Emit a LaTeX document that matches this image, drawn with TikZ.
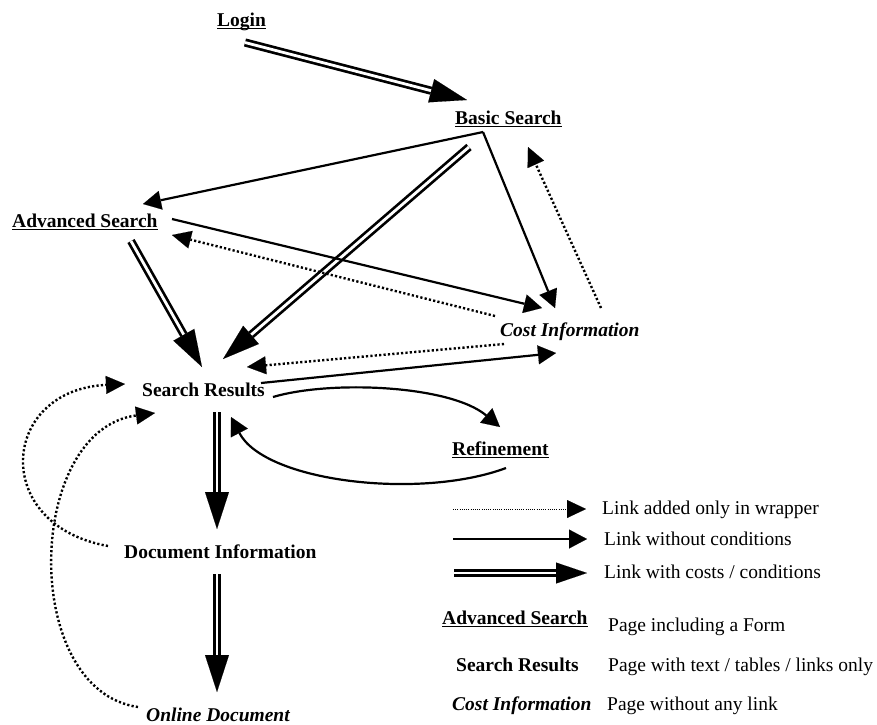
\documentclass[tikz,border=0pt]{standalone}
\usepackage{fontspec}
\setmainfont{Liberation Serif}
\usetikzlibrary{arrows.meta}
\newcommand\myul[1]{\setbox0\hbox{#1}\rlap{\rule[-2.9pt]{\wd0}{1.2pt}}\box0}
\tikzset{
  lbl/.style={inner sep=0pt, anchor=base west, font=\fontsize{19.5}{23}\selectfont},
  sglink/.style={line width=2.2pt, -{Triangle[length=18pt,width=19pt,line width=0.1pt]}},
  dblink/.style={line width=2.7pt, double, double distance=2.8pt, -{Triangle[length=37pt,width=24pt,line width=0.1pt]}},
  dotlink/.style={line width=2.4pt, dash pattern=on 2.2pt off 2.2pt, -{Triangle[length=19pt,width=18pt,line width=0.1pt]}},
  thindot/.style={line width=0.9pt, dash pattern=on 1pt off 1.2pt, -{Triangle[length=19pt,width=18pt,line width=0.1pt]}},
}
\begin{document}
\begin{tikzpicture}[x=1pt,y=-1pt]
\path[use as bounding box] (0,0) rectangle (877,724);
% nodes
\node[lbl] (login)  at (217,26)  {\textbf{\myul{Login}}};
\node[lbl] (basic)  at (455,124) {\textbf{\myul{Basic Search}}};
\node[lbl] (adv)    at (12,227)  {\textbf{\myul{Advanced Search}}};
\node[lbl] (cost)   at (500,336) {\textbf{\textit{Cost Information}}};
\node[lbl] (sr)     at (142,396) {\textbf{Search Results}};
\node[lbl] (ref)    at (452,455) {\textbf{\myul{Refinement}}};
\node[lbl] (doc)    at (124,558) {\textbf{Document Information}};
\node[lbl] (online) at (146,721) {\textbf{\textit{Online Document}}};
% connectors
\draw[dblink] ([shift={(28,16.5)}]login.base west) -- ([shift={(12,-24)}]basic.base west);
\draw[sglink] ([shift={(28,8)}]basic.base west) -- ([shift={(131,-23)}]adv.base west);
\draw[sglink] ([shift={(28,8)}]basic.base west) -- ([shift={(55,-28)}]cost.base west);
\draw[dblink] ([shift={(14,23)}]basic.base west) -- ([shift={(81,-37)}]sr.base west);
\draw[sglink] ([shift={(160,-8)}]adv.base west) -- ([shift={(42,-28)}]cost.base west);
\draw[dotlink] ([shift={(-5,-20)}]cost.base west) -- ([shift={(160,8)}]adv.base west);
\draw[dotlink] ([shift={(101,-28)}]cost.base west) -- ([shift={(73,23)}]basic.base west);
\draw[dblink] ([shift={(119,14)}]adv.base west) -- ([shift={(60,-29)}]sr.base west);
\draw[dotlink] ([shift={(4,8)}]cost.base west) -- ([shift={(105,-29)}]sr.base west);
\draw[sglink] ([shift={(119,-13)}]sr.base west) -- ([shift={(56,17)}]cost.base west);
\draw[sglink] ([shift={(131,1)}]sr.base west) .. controls +(57,-17) and +(-50,-42) .. ([shift={(48,-28)}]ref.base west);
\draw[sglink] ([shift={(54,13)}]ref.base west) .. controls +(-86,32) and +(34,65) .. ([shift={(89,21)}]sr.base west);
\draw[dblink] ([shift={(75,16)}]sr.base west) -- ([shift={(93,-29)}]doc.base west);
\draw[dblink] ([shift={(93,16)}]doc.base west) -- ([shift={(71,-29)}]online.base west);
\draw[dotlink] ([shift={(-16,-12)}]doc.base west) .. controls +(-118,-21) and +(-125,6) .. ([shift={(-17,-12)}]sr.base west);
\draw[dotlink] ([shift={(-8,-14)}]online.base west) .. controls +(-118,-17) and +(-130,17) .. ([shift={(13,17)}]sr.base west);
% legend
\coordinate (la1) at (453,509); \coordinate (lb1) at (586,509);
\coordinate (la2) at (453,539); \coordinate (lb2) at (587,539);
\coordinate (la3) at (454,573); \coordinate (lb3) at (587,573);
\draw[thindot] (la1) -- (lb1);
\draw[sglink] (la2) -- (lb2);
\draw[dblink, -{Triangle[length=31pt,width=21pt,line width=0.1pt]}] (la3) -- (lb3);
\node[lbl] (lt1) at (602,514) {Link added only in wrapper};
\node[lbl] (lt2) at (604,545) {Link without conditions};
\node[lbl] (lt3) at (604,578) {Link with costs / conditions};
\node[lbl] (ladv)   at (442,624.5) {\textbf{\myul{Advanced Search}}};
\node[lbl] (ldadv)  at (608,631) {Page including a Form};
\node[lbl] (lsr)    at (456,671) {\textbf{Search Results}};
\node[lbl] (ldsr)   at (608,671) {Page with text / tables / links only};
\node[lbl] (lcost)  at (452,710) {\textbf{\textit{Cost Information}}};
\node[lbl] (ldcost) at (607,710) {Page without any link};
\end{tikzpicture}
\end{document}
